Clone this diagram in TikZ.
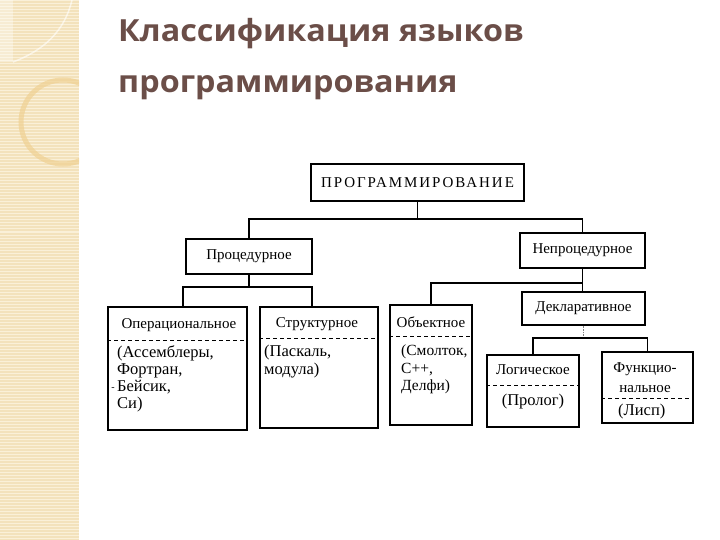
\documentclass[tikz,border=0pt]{standalone}
\usepackage{fontspec}
\setmainfont{Liberation Serif}
\newfontfamily\titlefont{Open Sans}
\definecolor{titlecol}{HTML}{6B4E48}
\definecolor{stripbg}{HTML}{F3E2BC}
\definecolor{stripln}{HTML}{FAF0D8}
\definecolor{ringcol}{HTML}{EFCF8E}
\begin{document}
\begin{tikzpicture}[x=1pt,y=-1pt,
  box/.style={draw, line width=1.3pt, rectangle, inner sep=0pt, font=\fontsize{15}{17}\selectfont},
  hdr/.style={inner sep=0pt, font=\fontsize{15}{17}\selectfont},
  body/.style={inner sep=0pt, anchor=west, align=left, font=\fontsize{16.5}{17.2}\selectfont},
  link/.style={line width=1.2pt},
  divider/.style={line width=1pt, dash pattern=on 4pt off 3pt},
  titletext/.style={inner sep=0pt, anchor=base west, text=titlecol, xscale=1.06, font=\titlefont\bfseries\fontsize{30.5}{34}\selectfont}]
\useasboundingbox (0,0) rectangle (720,540);
\fill[white] (0,0) rectangle (720,540);
% left decorative strip
\fill[stripbg] (0,0) rectangle (79,540);
\foreach \yy in {1,4,...,540} \draw[stripln, line width=1pt] (0,\yy) -- (79,\yy);
\begin{scope}
  \clip (0,0) rectangle (79,540);
  \draw[ringcol, line width=5pt, opacity=0.65] (63,122) circle (42);
  \draw[white, line width=1.5pt, opacity=0.6] (13,62) .. controls (45,50) and (65,30) .. (72,0);
  \fill[white, opacity=0.35] (0,0) rectangle (13,62);
\end{scope}
% title
\node[titletext] (t1) at (118,42) {Классификация языков};
\node[titletext] (t2) at (118,93) {программирования};
% boxes
\node[box, minimum width=213pt, minimum height=37pt] (top) at (417.5,182.5) {\addfontfeatures{LetterSpace=13}ПРОГРАММИРОВАНИЕ};
\node[box, minimum width=126pt, minimum height=35pt] (proc) at (249,256.5) {Процедурное};
\node[box, minimum width=125pt, minimum height=35pt] (nonproc) at (582.5,250.5) {Непроцедурное};
\node[box, minimum width=123pt, minimum height=33pt] (decl) at (583.5,308.5) {Декларативное};
\node[box, minimum width=139pt, minimum height=123pt] (oper) at (177.5,368.5) {};
\node[box, minimum width=118pt, minimum height=121pt] (struct) at (319,367.5) {};
\node[box, minimum width=82pt, minimum height=120pt] (obj) at (431,365) {};
\node[box, minimum width=92pt, minimum height=72pt] (logic) at (533,391) {};
\node[box, minimum width=91pt, minimum height=71pt] (func) at (647.5,387.5) {};
% dividers
\draw[divider] (oper.west |- 0,340) -- (oper.east |- 0,340);
\draw[divider] (struct.west |- 0,338) -- (struct.east |- 0,338);
\draw[divider] (obj.west |- 0,336) -- (obj.east |- 0,336);
\draw[divider] (logic.west |- 0,385) -- (logic.east |- 0,385);
\draw[divider] (func.west |- 0,398) -- (func.east |- 0,398);
% headers
\node[hdr] (operh) at (179,325) {Операциональное};
\node[hdr] (structh) at (317,324) {Структурное};
\node[hdr] (objh) at (431,322) {Объектное};
\node[hdr] (logich) at (533,370) {Логическое};
\node[hdr, align=center, font=\fontsize{15}{20}\selectfont] (funch) at (645,378) {Функцио-\\нальное};
% bodies
\node[body] (operb) at (117,379) {(Ассемблеры,\\Фортран,\\Бейсик,\\Си)};
\node[inner sep=0pt, font=\fontsize{10}{10}\selectfont] (tick) at (113,389) {-};
\node[body] (structb) at (264,361.5) {(Паскаль,\\модула)};
\node[body, font=\fontsize{15.5}{17.5}\selectfont] (objb) at (401,369.5) {(Смолток,\\C++,\\Делфи)};
\node[hdr, font=\fontsize{16.5}{17}\selectfont] (logicb) at (533,402) {(Пролог)};
\node[body] (funcb) at (618,412) {(Лисп)};
% connectors
\coordinate (busA) at (0,219);
\coordinate (busB) at (0,287);
\coordinate (busC) at (0,283);
\coordinate (busD) at (0,338);
\coordinate (dO) at (183,307);
\coordinate (dS) at (312,307);
\draw[link] (top.south) -- (top.south |- busA);
\draw[link] (proc.north) -- (proc.north |- busA) -| (nonproc.north);
\draw[link] (proc.south) -- (proc.south |- busB);
\draw[link] (dO) -- (dO |- busB) -| (dS);
\draw[link] (nonproc.south) -- (nonproc.south |- decl.north);
\draw[link] (obj.north) -- (obj.north |- busC) -- (nonproc.south |- busC);
\draw[line width=0.6pt, gray, densely dotted] (decl.south) -- (decl.south |- busD);
\draw[link] (logic.north) -- (logic.north |- busD) -| (func.north);
\end{tikzpicture}
\end{document}
